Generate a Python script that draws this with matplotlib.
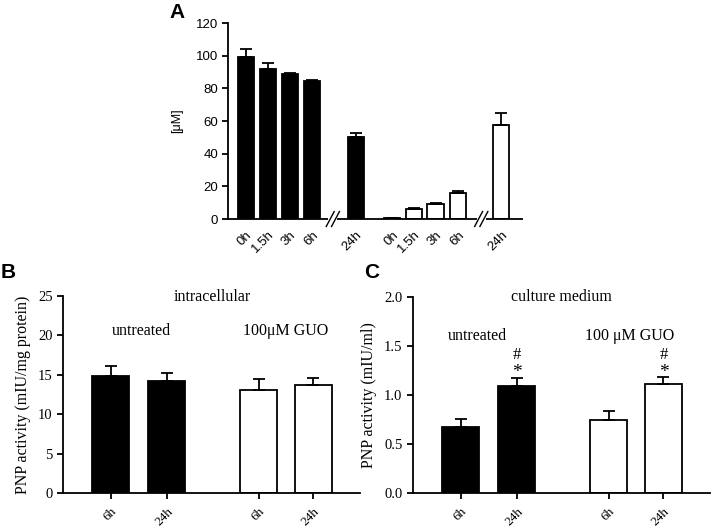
import matplotlib
matplotlib.use("Agg")
import matplotlib.pyplot as plt
import matplotlib.transforms as mtransforms

# ---------------- data ----------------
a_labels = ["0h", "1.5h", "3h", "6h", "24h", "0h", "1.5h", "3h", "6h", "24h"]
a_black = [99.0, 92.0, 88.5, 84.5, 50.5]
a_black_err = [5.0, 3.8, 0.6, 0.7, 2.4]
a_white = [0.5, 6.0, 9.0, 16.0, 57.5]
a_white_err = [0.3, 0.7, 0.9, 1.0, 7.2]
a_pos = [0, 1, 2, 3, 5, 6.65, 7.65, 8.62, 9.65, 11.62]
a_breaks = [3.95, 10.7]

bc_labels = ["6h", "24h", "6h", "24h"]
bc_pos = [0, 1, 2.64, 3.62]
b_vals = [14.9, 14.2, 13.1, 13.7]
b_err = [1.2, 1.0, 1.4, 0.9]
c_vals = [0.67, 1.09, 0.74, 1.11]
c_err = [0.09, 0.08, 0.10, 0.07]
c_fill = ["black", "black", "white", "white"]

SANS = "Liberation Sans"
SERIF = "Liberation Serif"

fig = plt.figure(figsize=(7.13, 5.27), dpi=100)

def px_axes(l, r, t, b):
    W, H = 713, 527
    return fig.add_axes([l / W, 1 - b / H, (r - l) / W, (b - t) / H])

LW = 1.3

# ---------------- panel A ----------------
axA = px_axes(228, 523, 23, 219)
bw = 0.73
for i in range(5):
    axA.bar(a_pos[i], a_black[i], width=bw, color="black", edgecolor="black", linewidth=LW,
            yerr=[[0], [a_black_err[i]]], capsize=4.2, error_kw=dict(elinewidth=LW, capthick=LW, ecolor="black"))
for i in range(5):
    axA.bar(a_pos[5 + i], a_white[i], width=bw, color="white", edgecolor="black", linewidth=LW,
            yerr=[[0], [a_white_err[i]]], capsize=4.2, error_kw=dict(elinewidth=LW, capthick=LW, ecolor="black"))
axA.set_ylim(0, 120)
xl, xr = -0.82, 12.6
axA.set_xlim(xl, xr)
axA.set_yticks([0, 20, 40, 60, 80, 100, 120])
axA.tick_params(axis="y", length=4, width=LW, labelsize=9.5, pad=3)
for t in axA.get_yticklabels():
    t.set_family(SANS)
axA.set_xticks(a_pos)
axA.set_xticklabels(a_labels, rotation=45, ha="right", rotation_mode="anchor", family=SANS, fontsize=9.5)
axA.tick_params(axis="x", length=0, pad=7)
for s in ["top", "right", "bottom"]:
    axA.spines[s].set_visible(False)
axA.spines["left"].set_linewidth(LW)
axA.set_ylabel("[μM]", family=SANS, fontsize=9, labelpad=9)
trA = mtransforms.blended_transform_factory(axA.transData, axA.transAxes)
gap = 0.2
segs = [(xl, a_breaks[0] - gap), (a_breaks[0] + gap, a_breaks[1] - gap), (a_breaks[1] + gap, xr)]
for x0, x1 in segs:
    axA.plot([x0, x1], [0, 0], color="black", lw=LW, transform=trA, clip_on=False, solid_capstyle="butt")
for bx in a_breaks:
    for d in (-0.12, 0.12):
        axA.plot([bx + d - 0.18, bx + d + 0.18], [-0.038, 0.038], color="black", lw=1.0,
                 transform=trA, clip_on=False)

# ---------------- panels B and C ----------------
def bc_panel(ax, vals, errs, ylim, yticks, fmt, ylabel):
    for i in range(4):
        ax.bar(bc_pos[i], vals[i], width=0.66, color=c_fill[i], edgecolor="black", linewidth=LW,
               yerr=[[0], [errs[i]]], capsize=4.5,
               error_kw=dict(elinewidth=LW, capthick=LW, ecolor="black"))
    ax.set_ylim(*ylim)
    ax.set_xlim(-0.85, 4.45)
    ax.set_yticks(yticks)
    ax.set_yticklabels([fmt.format(v) for v in yticks], family=SERIF, fontsize=10.5)
    ax.set_xticks(bc_pos)
    ax.set_xticklabels(bc_labels, rotation=45, ha="right", rotation_mode="anchor", family=SERIF, fontsize=9.5)
    ax.tick_params(axis="both", length=4, width=LW)
    ax.tick_params(axis="x", pad=5)
    for s in ["top", "right"]:
        ax.spines[s].set_visible(False)
    for s in ["left", "bottom"]:
        ax.spines[s].set_linewidth(LW)
    ax.set_ylabel(ylabel, family=SERIF, fontsize=11.5, labelpad=5)

axB = px_axes(63, 360, 296, 493)
bc_panel(axB, b_vals, b_err, (0, 25), [0, 5, 10, 15, 20, 25], "{:g}", "PNP activity (mIU/mg protein)")
axB.text(1.82, 24.9, "intracellular", family=SERIF, fontsize=11.5, ha="center", va="center")
axB.text(0.54, 20.6, "untreated", family=SERIF, fontsize=11.5, ha="center", va="center")
axB.text(3.13, 20.6, "100μM GUO", family=SERIF, fontsize=11.5, ha="center", va="center")

axC = px_axes(413, 710, 297, 493)
bc_panel(axC, c_vals, c_err, (0, 2.0), [0.0, 0.5, 1.0, 1.5, 2.0], "{:.1f}", "PNP activity (mIU/ml)")
axC.text(1.8, 2.0, "culture medium", family=SERIF, fontsize=11.5, ha="center", va="center")
axC.text(0.3, 1.60, "untreated", family=SERIF, fontsize=11.5, ha="center", va="center")
axC.text(3.02, 1.60, "100 μM GUO", family=SERIF, fontsize=11.5, ha="center", va="center")
for x in (bc_pos[1], bc_pos[3]):
    axC.text(x, 1.41, "#", family=SERIF, fontsize=12, ha="center", va="center")
    axC.text(x, 1.23, "*", family=SERIF, fontsize=14, ha="center", va="center")

# panel letters
fig.text(177 / 713, 1 - 12 / 527, "A", family=SANS, fontsize=15, fontweight="bold", ha="center", va="center")
fig.text(8 / 713, 1 - 272 / 527, "B", family=SANS, fontsize=15, fontweight="bold", ha="center", va="center")
fig.text(372 / 713, 1 - 272 / 527, "C", family=SANS, fontsize=15, fontweight="bold", ha="center", va="center")

fig.savefig("out.png", dpi=100, facecolor="white")
